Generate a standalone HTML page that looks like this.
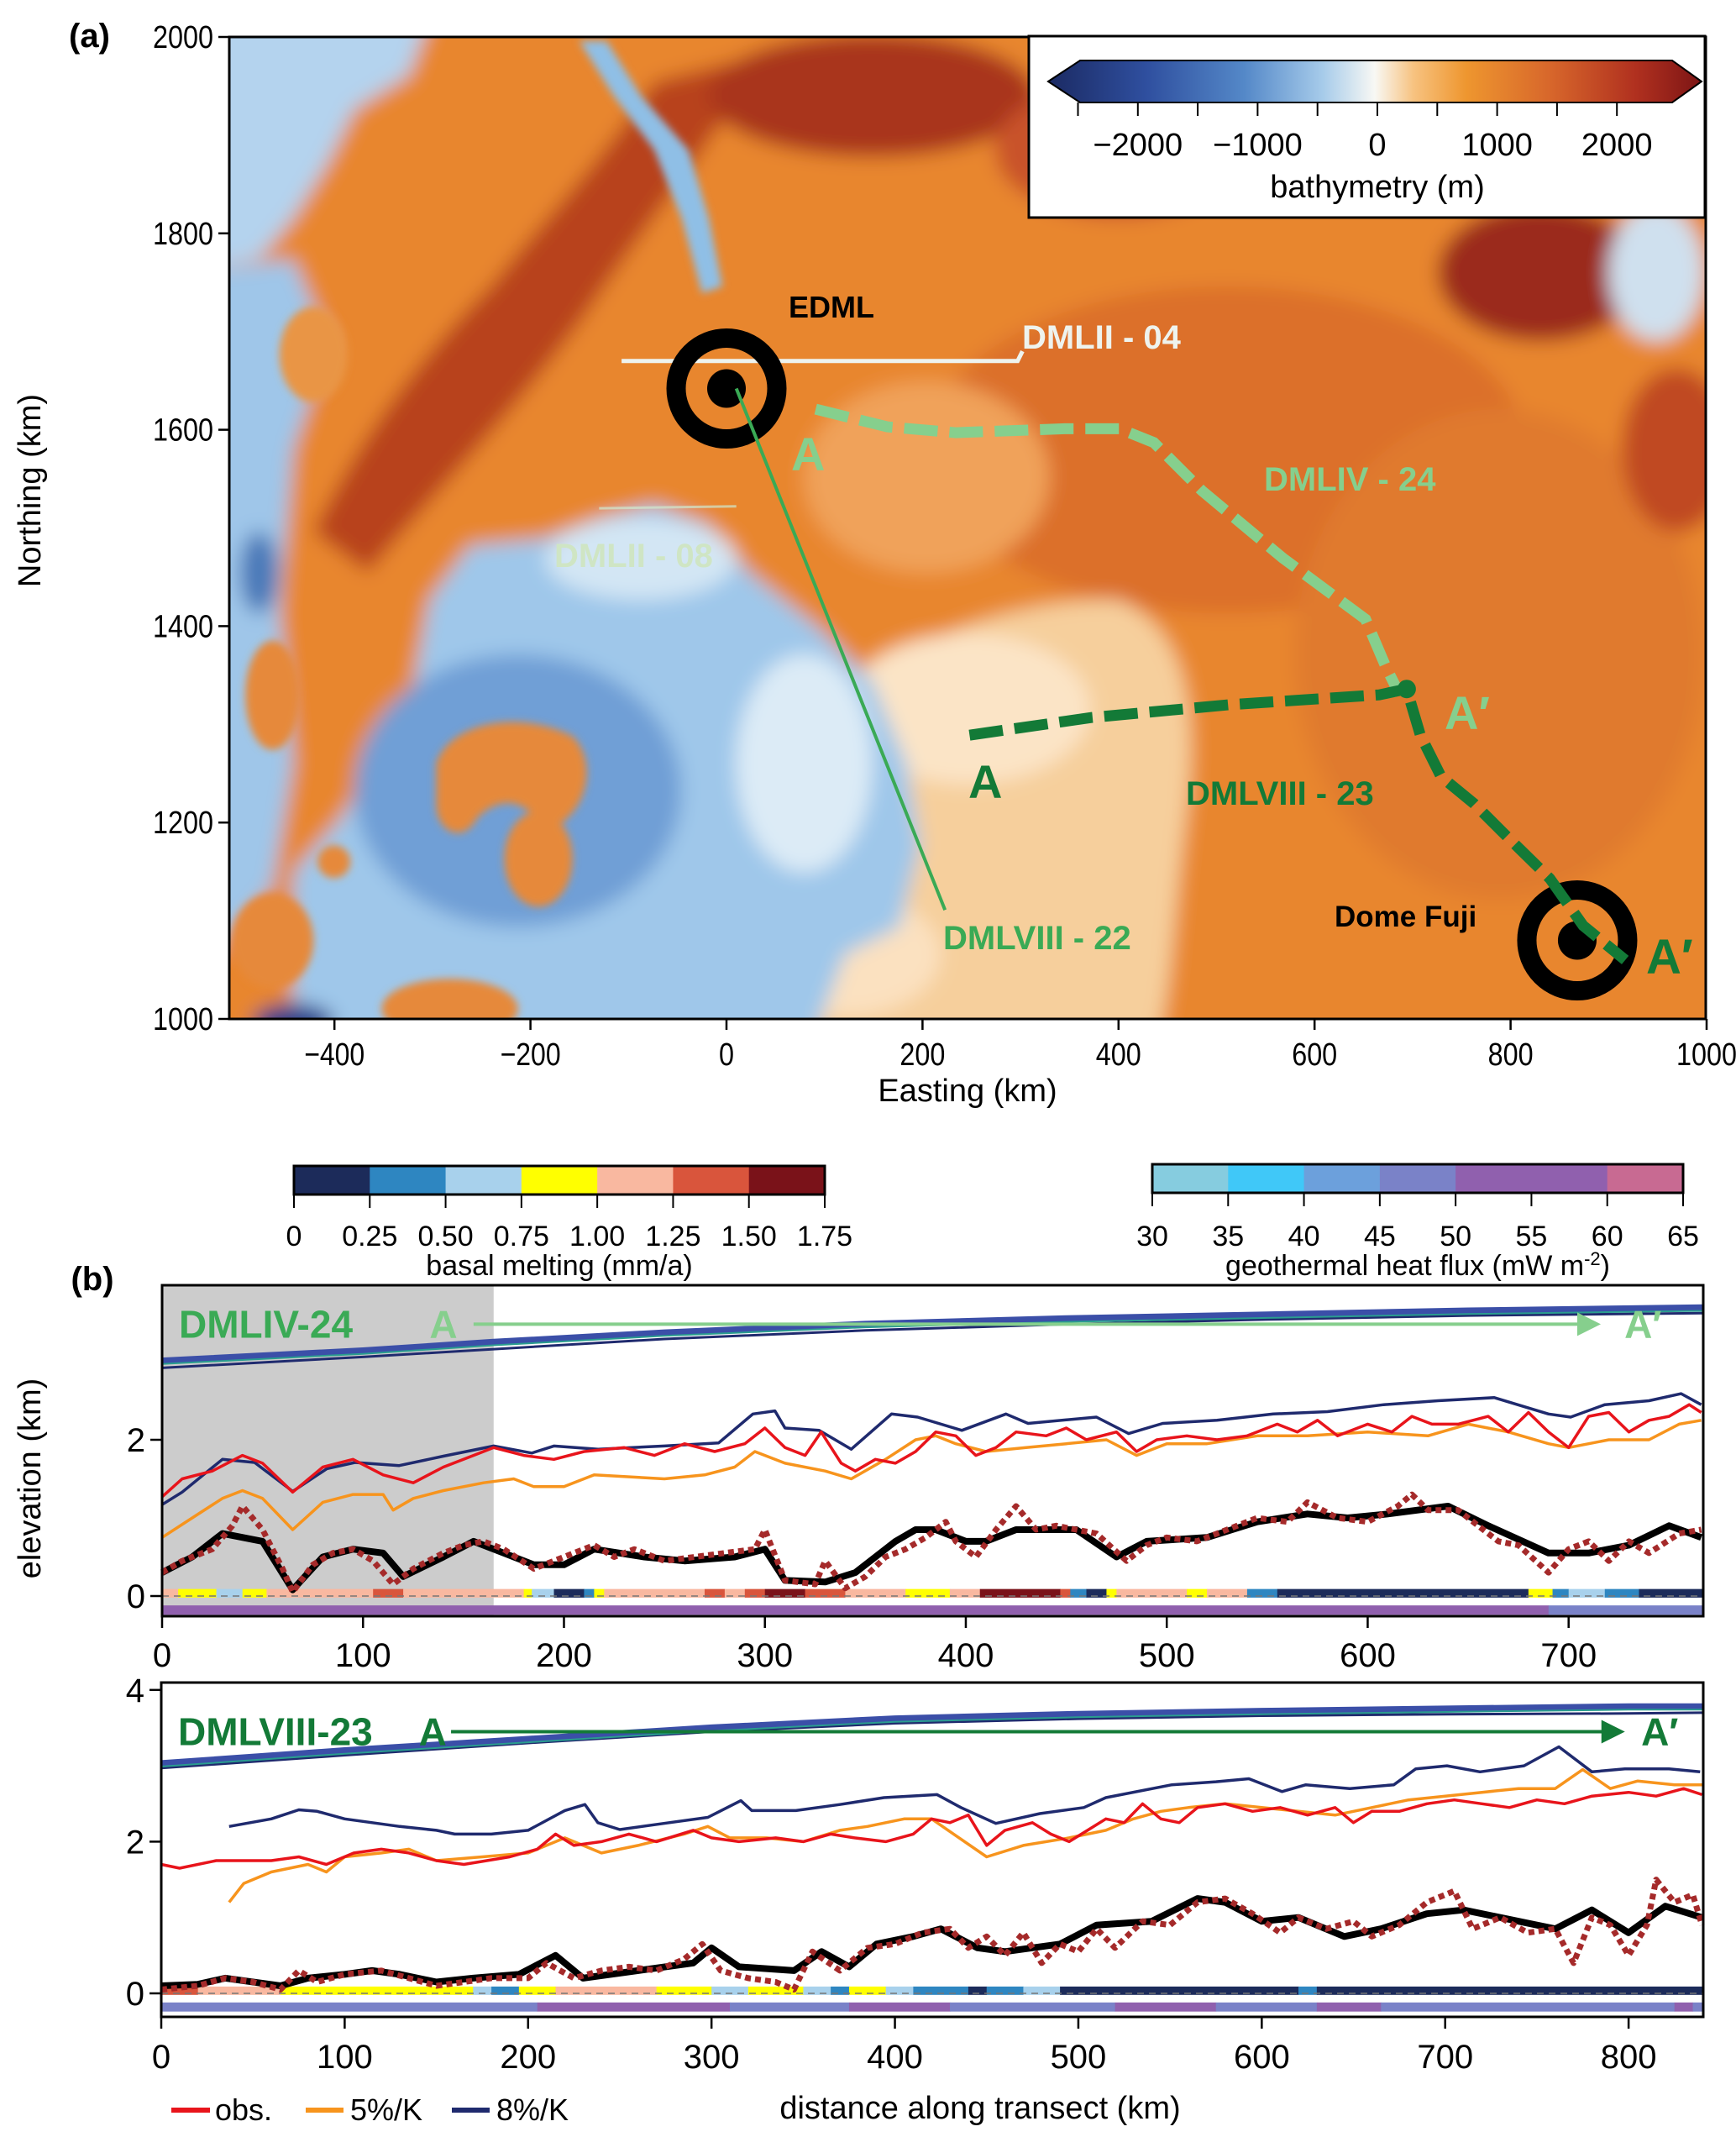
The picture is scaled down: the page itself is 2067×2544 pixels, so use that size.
<!DOCTYPE html>
<html><head><meta charset="utf-8"><style>
html,body{margin:0;padding:0;background:#fff}
svg{display:block}
text{font-family:"Liberation Sans Narrow","Liberation Sans",sans-serif}
.b{font-family:"Liberation Sans",sans-serif;font-weight:bold}
</style></head><body>
<svg id="fig" xmlns="http://www.w3.org/2000/svg" width="2067" height="2544" viewBox="0 0 2067 2544">
<defs>
<clipPath id="mapclip"><rect x="273" y="44" width="1758" height="1169"/></clipPath>
<filter id="blr" x="-20%" y="-20%" width="140%" height="140%"><feGaussianBlur stdDeviation="7"/></filter>
<filter id="blr2" x="-20%" y="-20%" width="140%" height="140%"><feGaussianBlur stdDeviation="3"/></filter>
<linearGradient id="bathy" x1="0" x2="1" y1="0" y2="0">
<stop offset="0" stop-color="#1b2a63"/><stop offset="0.15" stop-color="#2f4f9f"/><stop offset="0.3" stop-color="#5488c8"/>
<stop offset="0.42" stop-color="#a6cbea"/><stop offset="0.5" stop-color="#f8f8f4"/><stop offset="0.56" stop-color="#f7c27f"/>
<stop offset="0.64" stop-color="#ee962f"/><stop offset="0.77" stop-color="#d7662b"/><stop offset="0.9" stop-color="#b0301f"/><stop offset="1" stop-color="#7d1515"/>
</linearGradient>
</defs>

<!-- MAP -->
<g clip-path="url(#mapclip)">
<rect x="273" y="44" width="1758" height="1169" fill="#e8862f"/>
<g transform="scale(1.623)" filter="url(#blr)">
 <rect x="140" y="0" width="1140" height="780" fill="#e8862f"/>
 <ellipse cx="900" cy="330" rx="220" ry="120" fill="#dc6f29"/>
 <ellipse cx="1100" cy="480" rx="150" ry="180" fill="#e07a2d"/>
 <path d="M230,390 C260,330 300,270 360,210 C400,160 440,120 480,60 L560,40 C520,110 470,170 430,230 C380,300 320,360 270,420 Z" fill="#b8421f"/>
 <ellipse cx="640" cy="70" rx="120" ry="45" fill="#a9351c"/>
 <ellipse cx="820" cy="110" rx="90" ry="50" fill="#c9522a"/>
 <ellipse cx="1130" cy="200" rx="75" ry="50" fill="#9b2c1b"/>
 <ellipse cx="1230" cy="330" rx="40" ry="60" fill="#c04a20"/>
 <ellipse cx="680" cy="350" rx="90" ry="70" fill="#f0a25a"/>
 <path d="M545,760 C540,660 560,580 610,520 C660,470 740,440 820,440 C870,460 880,520 870,600 C860,680 860,720 850,760 Z" fill="#f6cf9c"/>
 <ellipse cx="710" cy="520" rx="90" ry="55" fill="#fbe4c6"/>
 <ellipse cx="620" cy="700" rx="70" ry="45" fill="#fbe1c0"/>
 <path d="M140,0 L320,0 L300,55 L260,80 L240,120 L215,160 L190,190 L140,200 Z" fill="#b4d3ee"/>
 <path d="M140,200 L215,190 L240,250 L225,300 L215,330 L205,450 L215,560 L200,650 L140,720 Z" fill="#9fc6e9"/>
 <path d="M215,780 L215,640 L250,600 L300,520 L315,440 L345,400 L400,395 L440,380 L480,370 L520,385 L550,420 L600,460 L640,500 L665,560 L675,620 L660,680 L620,700 L590,780 Z" fill="#9fc7ea"/>
 <ellipse cx="380" cy="580" rx="120" ry="100" fill="#6f9fd6"/>
 <ellipse cx="470" cy="410" rx="70" ry="30" fill="#d3e6f4"/>
 <ellipse cx="590" cy="560" rx="50" ry="80" fill="#dcebf6"/>
 <ellipse cx="1215" cy="200" rx="35" ry="50" fill="#cfe0ee"/>
 <ellipse cx="190" cy="420" rx="14" ry="30" fill="#4a78b8"/>
 <ellipse cx="215" cy="750" rx="30" ry="14" fill="#27408b"/>
</g>
<g transform="scale(1.623)" filter="url(#blr2)">
 <path d="M425,30 L445,30 L470,70 L505,110 L520,160 L530,210 L515,215 L500,160 L480,110 L450,70 Z" fill="#8fbfe6"/>
 <path d="M320,560 C330,530 380,520 420,540 C440,560 430,600 400,610 C390,590 370,580 350,600 C340,620 320,610 320,590 Z" fill="#e6893a"/>
 <ellipse cx="395" cy="630" rx="25" ry="35" fill="#e6893a"/>
 <ellipse cx="245" cy="632" rx="12" ry="12" fill="#e6893a"/>
 <ellipse cx="200" cy="690" rx="30" ry="35" fill="#e6893a"/>
 <ellipse cx="330" cy="740" rx="50" ry="22" fill="#e6893a"/>
 <ellipse cx="200" cy="510" rx="20" ry="40" fill="#e6893a"/>
 <ellipse cx="230" cy="260" rx="25" ry="35" fill="#e99545"/>
</g>
</g>
<rect x="273" y="44" width="1758" height="1169" fill="none" stroke="#000" stroke-width="3"/>
<g id="mapover"></g>

<!-- bathymetry colorbar box -->
<g>
<rect x="1225" y="43" width="805" height="216" fill="#fff" stroke="#000" stroke-width="3"/>
<polygon points="1248,97 1286,72 1991,72 2026,97 1991,122 1286,122" fill="url(#bathy)" stroke="#000" stroke-width="2"/>
<g id="bathyticks"></g>
<text x="1640" y="235" font-size="38" text-anchor="middle">bathymetry (m)</text>
</g>

<text x="82" y="56" class="b" font-size="40">(a)</text>
<text x="1152" y="1311" font-size="38" text-anchor="middle">Easting (km)</text>
<text x="48" y="584" font-size="38" text-anchor="middle" transform="rotate(-90 48 584)">Northing (km)</text>

<!-- panel b colorbars -->
<g id="cbars"></g>
<text x="666" y="1518" font-size="34" text-anchor="middle">basal melting (mm/a)</text>
<text x="1688" y="1518" font-size="34" text-anchor="middle">geothermal heat flux (mW m<tspan font-size="22" dy="-12">-2</tspan><tspan dy="12">)</tspan></text>
<text x="110" y="1536" class="b" font-size="40" text-anchor="middle">(b)</text>
<text x="48" y="1760" font-size="38" text-anchor="middle" transform="rotate(-90 48 1760)">elevation (km)</text>
<text x="1167" y="2522" font-size="38" text-anchor="middle">distance along transect (km)</text>

<g>
<line x1="204" y1="2512" x2="250" y2="2512" stroke="#e8141b" stroke-width="6"/>
<text x="256" y="2524" font-size="36">obs.</text>
<line x1="364" y1="2512" x2="409" y2="2512" stroke="#f7941d" stroke-width="6"/>
<text x="417" y="2524" font-size="36">5%/K</text>
<line x1="538" y1="2512" x2="583" y2="2512" stroke="#1f2a6e" stroke-width="6"/>
<text x="591" y="2524" font-size="36">8%/K</text>
</g>

<g id="plot1"></g>
<g id="plot2"></g>
</svg>
<script>
const NS="http://www.w3.org/2000/svg";
function el(tag,attrs,parent,txt){const e=document.createElementNS(NS,tag);for(const k in attrs)e.setAttribute(k,attrs[k]);if(txt!==undefined)e.textContent=txt;parent.appendChild(e);return e;}

// ---------- MAP DATA (km) ----------
const mapXTicks=[-400,-200,0,200,400,600,800,1000];
const mapYTicks=[1000,1200,1400,1600,1800,2000];
const edml=[0,1642];
const domeFuji=[868,1080];
const dml04=[[-107,1670],[297,1670],[302,1680]];
const dml08=[[-130,1520],[10,1522]];
const dml22=[[10,1642],[223,1111]];
const dml24=[[91,1621],[164,1603],[234,1597],[345,1601],[401,1601],[436,1587],[485,1538],[568,1469],[652,1407],[673,1358],[687,1330]];
const dml23=[[248,1289],[373,1307],[513,1320],[666,1330],[694,1336],[708,1289],[729,1247],[763,1219],[791,1191],[840,1143],[874,1095],[917,1060]];
const bathyTicks=[-2500,-2000,-1500,-1000,-500,0,500,1000,1500,2000];
const bathyLabels=[-2000,-1000,0,1000,2000];

const MX=e=>865+e*1.167, MY=n=>1213-(n-1000)*1.169;
const BX=v=>1640+v*0.1426;
const mo=document.getElementById('mapover');
function mpath(pts){return pts.map((p,i)=>(i?'L':'M')+MX(p[0]).toFixed(1)+','+MY(p[1]).toFixed(1)).join(' ');}

mapXTicks.forEach(v=>{
 const t=el('line',{x1:MX(v),x2:MX(v),y1:1213,y2:1226,stroke:'#000','stroke-width':2.5},mo);
 
 
 const s=(v<0?'\u2212':'')+Math.abs(v);
 const l=el('text',{x:MX(v),y:1268,'font-size':38,'text-anchor':'middle',textLength:s.length*18,lengthAdjust:'spacingAndGlyphs'},mo,s);
 
 
});
mapYTicks.forEach(v=>{
 const t=el('line',{x1:260,x2:273,y1:MY(v),y2:MY(v),stroke:'#000','stroke-width':2.5},mo);
 
 
 const l=el('text',{x:254,y:MY(v)+13,'font-size':38,'text-anchor':'end',textLength:72,lengthAdjust:'spacingAndGlyphs'},mo,String(v));
 
 
});
let p;
p=el('path',{d:mpath(dml04),fill:'none',stroke:'#eef3ee','stroke-width':5},mo);


p=el('path',{d:mpath(dml08),fill:'none',stroke:'#cfe8cf','stroke-width':3,opacity:0.7},mo);


function target(c,name){
 const g=el('g',{},mo);
 
 
 el('circle',{cx:MX(c[0]),cy:MY(c[1]),r:60,fill:'none',stroke:'#000','stroke-width':23},g);
 el('circle',{cx:MX(c[0]),cy:MY(c[1]),r:23,fill:'#000'},g);
}
target(edml,'edml-marker');
target(domeFuji,'dome-fuji-marker');
p=el('path',{d:mpath(dml22),fill:'none',stroke:'#3aaa55','stroke-width':4},mo);


p=el('path',{d:mpath(dml24),fill:'none',stroke:'#86cf8d','stroke-width':13,'stroke-dasharray':'40,14'},mo);


p=el('path',{d:mpath(dml23),fill:'none',stroke:'#137a37','stroke-width':13,'stroke-dasharray':'40,14'},mo);


p=el('circle',{cx:MX(694),cy:MY(1336),r:11,fill:'#137a37'},mo);


const mlabels=[
 ['EDML',939,378,36,'#000','edml-label'],
 ['DMLII - 04',1217,415,40,'#eef3ee','dmlii-04-label'],
 ['A',942,560,56,'#86cf8d','a-label-24'],
 ['DMLIV - 24',1505,584,40,'#86cf8d','dmliv-24-label'],
 ['DMLII - 08',660,675,40,'#cfe5c4','dmlii-08-label'],
 ['A\u2032',1720,868,56,'#86cf8d','a-prime-label-24'],
 ['A',1153,950,56,'#137a37','a-label-23'],
 ['DMLVIII - 23',1412,958,40,'#137a37','dmlviii-23-label'],
 ['DMLVIII - 22',1123,1130,40,'#3aaa55','dmlviii-22-label'],
 ['Dome Fuji',1589,1103,35,'#000','dome-fuji-label'],
 ['A\u2032',1960,1159,58,'#137a37','a-prime-label-23']
];
mlabels.forEach(m=>{
 const t=el('text',{x:m[1],y:m[2],'font-size':m[3],fill:m[4],class:'b'},mo,m[0]);
 
 
});
const bt=document.getElementById('bathyticks');
bathyTicks.forEach(v=>{
 const t=el('line',{x1:BX(v),x2:BX(v),y1:122,y2:138,stroke:'#000','stroke-width':2},bt);
 
 
});
bathyLabels.forEach(v=>{
 const t=el('text',{x:BX(v),y:185,'font-size':38,'text-anchor':'middle'},bt,(v<0?'\u2212':'')+Math.abs(v));
 
 
});

// ---------- colorbars panel b ----------
const meltTicks=['0','0.25','0.50','0.75','1.00','1.25','1.50','1.75'];
const meltColors=['#1c2b5a','#2e86c1','#a8d1ec','#ffff00','#f9b8a0','#d9553c','#7a1219'];
const geoTicks=['30','35','40','45','50','55','60','65'];
const geoColors=['#86ccdf','#40c8f8','#6ca0dc','#7a82c8','#9060ae','#9060ae','#c86a92'];
const cb=document.getElementById('cbars');
function cbar(x0,x1,y0,y1,cols,ticks,name){
 const g=el('g',{},cb);
 
 
 const w=(x1-x0)/cols.length;
 cols.forEach((c,i)=>el('rect',{x:x0+i*w,y:y0,width:w+0.5,height:y1-y0,fill:c},g));
 el('rect',{x:x0,y:y0,width:x1-x0,height:y1-y0,fill:'none',stroke:'#000','stroke-width':3},g);
 ticks.forEach((t,i)=>{
  const x=x0+i*(x1-x0)/(ticks.length-1);
  el('line',{x1:x,x2:x,y1:y1,y2:y1+16,stroke:'#000','stroke-width':2},g);
  el('text',{x:x,y:1483,'font-size':34,'text-anchor':'middle'},g,t);
 });
}
cbar(350,982,1388,1422,meltColors,meltTicks,'basal-melting-colorbar');
cbar(1372,2004,1386,1420,geoColors,geoTicks,'geothermal-colorbar');

// ---------- PROFILE DATA ----------
const p1Surf=[[0,3.01],[100,3.14],[165,3.25],[250,3.37],[350,3.48],[450,3.55],[550,3.6],[650,3.65],[767,3.69]];
const p1SurfLow=[[0,2.92],[100,3.06],[165,3.16],[250,3.29],[350,3.4],[450,3.48],[550,3.54],[650,3.59],[767,3.62]];
const p1Navy=[[0,1.17],[10,1.33],[30,1.75],[46,1.71],[65,1.34],[82,1.63],[96,1.71],[118,1.67],[140,1.79],[165,1.92],[184,1.83],[195,1.92],[217,1.88],[250,1.92],[277,1.96],[294,2.33],[305,2.37],[310,2.15],[327,2.12],[343,1.88],[363,2.33],[376,2.29],[398,2.12],[420,2.33],[431,2.21],[465,2.29],[481,2.08],[498,2.21],[525,2.25],[553,2.33],[580,2.36],[608,2.45],[635,2.5],[663,2.54],[690,2.33],[701,2.29],[718,2.45],[740,2.5],[756,2.59],[766,2.45]];
const p1Obs=[[0,1.27],[10,1.5],[25,1.6],[40,1.8],[50,1.7],[65,1.33],[80,1.65],[95,1.75],[110,1.55],[125,1.45],[140,1.65],[155,1.8],[165,1.9],[180,1.8],[195,1.75],[210,1.85],[230,1.9],[245,1.8],[260,1.95],[275,1.85],[290,1.95],[300,2.15],[310,1.9],[320,1.8],[328,2.1],[338,1.7],[345,1.6],[355,1.75],[365,1.7],[375,1.85],[385,2.1],[395,2.05],[405,1.8],[415,1.9],[425,2.1],[440,2.05],[450,2.15],[460,2.0],[475,2.1],[485,1.85],[495,2.0],[510,2.05],[525,2.0],[540,2.05],[555,2.2],[565,2.1],[575,2.25],[585,2.05],[600,2.2],[612,2.1],[622,2.3],[632,2.2],[645,2.2],[660,2.3],[670,2.1],[680,2.35],[690,2.1],[700,1.9],[710,2.3],[720,2.35],[730,2.1],[740,2.25],[750,2.3],[760,2.45],[766,2.35]];
const p1Five=[[0,0.75],[15,1.0],[30,1.25],[40,1.35],[50,1.25],[65,0.85],[80,1.2],[95,1.3],[110,1.3],[115,1.1],[125,1.25],[140,1.35],[160,1.45],[175,1.5],[185,1.4],[200,1.4],[215,1.55],[250,1.5],[270,1.55],[285,1.65],[295,1.85],[310,1.7],[330,1.6],[343,1.5],[360,1.75],[375,2.0],[385,2.05],[395,1.95],[410,1.85],[430,1.9],[450,1.95],[470,2.0],[485,1.8],[500,1.95],[520,1.95],[545,2.05],[570,2.05],[600,2.1],[630,2.05],[650,2.2],[670,2.1],[690,1.95],[700,1.9],[720,2.0],[740,2.0],[755,2.2],[766,2.25]];
const p1Bed=[[0,0.3],[15,0.5],[30,0.8],[50,0.7],[65,0.08],[80,0.5],[95,0.6],[110,0.55],[120,0.25],[140,0.5],[155,0.7],[170,0.55],[185,0.4],[200,0.4],[215,0.6],[240,0.5],[260,0.45],[285,0.5],[300,0.6],[310,0.2],[330,0.18],[345,0.3],[365,0.7],[375,0.85],[385,0.85],[400,0.7],[410,0.7],[425,0.85],[440,0.85],[455,0.85],[475,0.5],[490,0.7],[520,0.75],[545,0.95],[570,1.05],[590,1.0],[610,1.05],[640,1.15],[660,0.9],[690,0.55],[710,0.55],[730,0.65],[750,0.9],[766,0.75]];
const p1BedObs=[[0,0.3],[10,0.45],[25,0.6],[35,0.9],[40,1.15],[50,0.85],[60,0.35],[65,0.05],[75,0.4],[85,0.55],[95,0.6],[105,0.45],[115,0.15],[125,0.35],[140,0.55],[150,0.65],[160,0.7],[170,0.6],[185,0.35],[195,0.45],[205,0.55],[215,0.65],[225,0.5],[235,0.6],[250,0.45],[265,0.5],[280,0.55],[295,0.6],[300,0.85],[310,0.2],[325,0.15],[330,0.45],[340,0.1],[350,0.25],[360,0.5],[370,0.6],[380,0.75],[390,0.95],[395,0.7],[405,0.5],[415,0.85],[425,1.15],[435,0.85],[445,0.9],[455,0.85],[465,0.8],[480,0.45],[490,0.65],[500,0.75],[515,0.7],[530,0.85],[545,1.0],[560,0.95],[570,1.2],[585,1.0],[600,0.95],[615,1.15],[622,1.3],[630,1.1],[645,1.1],[655,0.9],[665,0.7],[675,0.65],[690,0.3],[700,0.6],[710,0.7],[720,0.45],[730,0.7],[740,0.55],[755,0.8],[766,0.85]];
const p1Melt=[[0,8,4],[8,27,3],[27,40,2],[40,52,3],[52,105,4],[105,120,5],[120,180,4],[180,184,3],[184,195,2],[195,210,0],[210,215,1],[215,220,3],[220,270,4],[270,280,5],[280,290,4],[290,300,5],[300,320,6],[320,340,5],[340,370,4],[370,392,3],[392,407,4],[407,447,6],[447,452,5],[452,460,1],[460,470,0],[470,475,3],[475,510,4],[510,520,3],[520,540,4],[540,555,1],[555,680,0],[680,692,3],[692,700,1],[700,718,2],[718,735,1],[735,767,0]];
const p1Geo=[[0,690,4],[690,767,3]];

const p2Surf=[[0,3.03],[100,3.2],[200,3.35],[300,3.5],[400,3.62],[500,3.68],[600,3.72],[700,3.75],[800,3.78],[840,3.78]];
const p2SurfLow=[[0,2.97],[100,3.14],[200,3.3],[300,3.45],[400,3.56],[500,3.62],[600,3.66],[700,3.68],[800,3.69],[840,3.7]];
const p2Navy=[[37,2.2],[60,2.3],[75,2.42],[85,2.4],[100,2.3],[130,2.2],[150,2.15],[160,2.1],[180,2.1],[200,2.15],[220,2.41],[231,2.49],[238,2.25],[250,2.16],[274,2.24],[298,2.32],[316,2.54],[322,2.41],[346,2.41],[370,2.49],[394,2.58],[423,2.62],[436,2.45],[455,2.24],[479,2.37],[503,2.45],[515,2.58],[551,2.75],[575,2.79],[593,2.83],[611,2.66],[624,2.75],[648,2.7],[672,2.75],[684,2.96],[701,3.0],[719,2.92],[743,3.0],[762,3.25],[780,2.92],[798,2.96],[822,2.96],[839,2.92]];
const p2Obs=[[0,1.7],[10,1.65],[30,1.75],[60,1.75],[75,1.8],[90,1.7],[105,1.85],[120,1.9],[135,1.85],[150,1.75],[165,1.7],[190,1.8],[205,1.9],[215,2.1],[225,1.95],[240,2.0],[255,2.1],[270,2.0],[290,2.15],[300,2.05],[315,2.0],[335,2.05],[350,2.0],[365,2.1],[378,2.05],[395,2.0],[410,2.1],[420,2.3],[430,2.25],[440,2.35],[450,1.95],[460,2.15],[475,2.25],[485,2.1],[495,2.0],[505,2.15],[515,2.3],[525,2.25],[535,2.5],[545,2.3],[555,2.25],[565,2.45],[580,2.5],[595,2.4],[610,2.45],[625,2.35],[640,2.45],[650,2.25],[660,2.4],[675,2.4],[690,2.5],[705,2.55],[720,2.5],[735,2.45],[750,2.55],[765,2.5],[780,2.6],[800,2.65],[815,2.6],[830,2.7],[840,2.62]];
const p2Five=[[37,1.2],[45,1.45],[60,1.6],[70,1.65],[80,1.7],[90,1.6],[100,1.8],[120,1.85],[135,1.9],[150,1.75],[175,1.8],[200,1.85],[220,2.05],[240,1.85],[260,1.95],[285,2.1],[298,2.2],[310,2.05],[330,2.05],[350,2.0],[370,2.15],[385,2.2],[405,2.3],[420,2.3],[435,2.05],[450,1.8],[470,1.95],[495,2.05],[515,2.15],[530,2.3],[545,2.4],[560,2.45],[580,2.5],[600,2.45],[620,2.4],[640,2.35],[660,2.45],[680,2.55],[700,2.6],[720,2.65],[740,2.7],[760,2.7],[775,2.95],[790,2.7],[805,2.8],[825,2.75],[840,2.75]];
const p2Bed=[[0,0.1],[20,0.12],[35,0.2],[65,0.1],[80,0.2],[100,0.25],[115,0.3],[130,0.25],[150,0.15],[170,0.2],[195,0.25],[215,0.5],[230,0.2],[260,0.3],[290,0.4],[300,0.6],[315,0.35],[345,0.3],[360,0.55],[375,0.35],[390,0.65],[410,0.75],[425,0.85],[445,0.6],[460,0.55],[490,0.65],[510,0.9],[540,0.95],[565,1.25],[580,1.2],[600,0.95],[620,1.0],[645,0.75],[665,0.85],[690,1.05],[710,1.1],[740,0.95],[760,0.85],[780,1.1],[800,0.8],[820,1.15],[840,1.0]];
const p2BedObs=[[0,0.05],[20,0.1],[35,0.2],[50,0.15],[65,0.05],[75,0.3],[85,0.15],[100,0.25],[120,0.3],[135,0.2],[150,0.1],[165,0.15],[180,0.2],[200,0.2],[210,0.4],[225,0.2],[240,0.3],[255,0.35],[270,0.3],[285,0.45],[295,0.65],[305,0.3],[320,0.2],[335,0.15],[345,0.05],[355,0.55],[370,0.3],[385,0.6],[400,0.65],[415,0.8],[430,0.85],[440,0.6],[450,0.75],[460,0.5],[470,0.8],[480,0.4],[490,0.65],[500,0.55],[510,0.85],[520,0.6],[535,0.95],[550,0.9],[565,1.2],[580,1.25],[595,1.05],[610,0.8],[620,1.0],[635,0.85],[650,0.95],[660,0.75],[675,0.9],[690,1.2],[705,1.35],[715,0.85],[730,1.0],[745,0.8],[760,0.85],[770,0.4],[780,1.0],[790,0.9],[800,0.5],[810,0.9],[815,1.5],[825,1.2],[835,1.3],[840,0.9]];
const p2Melt=[[0,20,5],[20,65,4],[65,170,3],[170,180,2],[180,195,1],[195,215,3],[215,270,4],[270,300,3],[300,320,2],[320,350,3],[350,365,2],[365,375,1],[375,395,3],[395,410,2],[410,440,1],[440,450,0],[450,470,1],[470,490,2],[490,620,0],[620,630,1],[630,841,0]];
const p2Geo=[[0,205,3],[205,310,4],[310,375,3],[375,430,4],[430,520,3],[520,575,4],[575,630,3],[630,665,4],[665,825,3],[825,835,4],[835,841,3]];
const p1XTicks=[0,100,200,300,400,500,600,700];
const p2XTicks=[0,100,200,300,400,500,600,700,800];
const p1YTicks=[0,2];
const p2YTicks=[0,2,4];

function drawPlot(gid,cfg){
 const g=document.getElementById(gid);
 const X=v=>cfg.l+v*(cfg.r-cfg.l)/cfg.xmax, Y=v=>cfg.y0-v*cfg.ky;
 const path=pts=>pts.map((p,i)=>(i?'L':'M')+X(p[0]).toFixed(1)+','+Y(p[1]).toFixed(1)).join(' ');
 el('rect',{x:cfg.l,y:cfg.t,width:cfg.r-cfg.l,height:cfg.b-cfg.t,fill:'#fff'},g);
 if(cfg.gray){const r=el('rect',{x:cfg.l,y:cfg.t,width:X(cfg.gray)-cfg.l,height:cfg.b-cfg.t,fill:'#cccccc'},g);
  
  }
 cfg.melt.forEach(s=>{const r=el('rect',{x:X(s[0]),y:Y(0.09),width:X(s[1])-X(s[0])+0.5,height:0.11*cfg.ky,fill:meltColors[s[2]]},g);
  
  });
 el('line',{x1:cfg.l,x2:cfg.r,y1:Y(0),y2:Y(0),stroke:'#777','stroke-width':1.5,'stroke-dasharray':'8,6'},g);
 cfg.geo.forEach(s=>{const r=el('rect',{x:X(s[0]),y:Y(-0.12),width:X(s[1])-X(s[0])+0.5,height:0.12*cfg.ky,fill:geoColors[s[2]]},g);
  
  });
 const series=[
  [cfg.surfLow,'#1f2a6e',3,null,'surface-8pct'],
  [cfg.surf,'#3b4fa8',8,null,'surface-obs'],
  [cfg.surf.map(p=>[p[0],p[1]-0.04]),'#2a9d8f',2,null,'surface-5pct'],
  [cfg.navy,'#1f2a6e',3.5,null,'line-8pct-per-k'],
  [cfg.five,'#f7941d',3.5,null,'line-5pct-per-k'],
  [cfg.obs,'#e8141b',3.5,null,'line-obs'],
  [cfg.bed,'#000',8,null,'bed-smoothed'],
  [cfg.bedObs,'#a52a2a',7,'7,5','bed-observed']
 ];
 series.forEach(s=>{
  const a={d:path(s[0]),fill:'none',stroke:s[1],'stroke-width':s[2],'stroke-linejoin':'round'};
  if(s[3])a['stroke-dasharray']=s[3];
  const p=el('path',a,g);
  
  
 });
 const ay=Y(cfg.arrowY);
 const ar=el('line',{x1:X(cfg.arrow[0]),x2:X(cfg.arrow[1])-20,y1:ay,y2:ay,stroke:cfg.acol,'stroke-width':4},g);
 
 
 el('polygon',{points:`${X(cfg.arrow[1])},${ay} ${X(cfg.arrow[1])-28},${ay-14} ${X(cfg.arrow[1])-28},${ay+14}`,fill:cfg.acol},g);
 let t=el('text',{x:cfg.l+20,y:ay+16,'font-size':46,fill:cfg.lcol,class:'b'},g,cfg.label);
 
 
 t=el('text',{x:X(cfg.aPos),y:ay+16,'font-size':46,fill:cfg.acol,class:'b','text-anchor':'middle'},g,'A');
 
 
 t=el('text',{x:X(cfg.apPos),y:ay+16,'font-size':46,fill:cfg.acol,class:'b','text-anchor':'middle'},g,'A\u2032');
 
 
 el('rect',{x:cfg.l,y:cfg.t,width:cfg.r-cfg.l,height:cfg.b-cfg.t,fill:'none',stroke:'#000','stroke-width':3},g);
 cfg.xt.forEach(v=>{
  const k=el('line',{x1:X(v),x2:X(v),y1:cfg.b,y2:cfg.b+14,stroke:'#000','stroke-width':2.5},g);
  
  
  const l=el('text',{x:X(v),y:cfg.xly,'font-size':40,'text-anchor':'middle'},g,String(v));
  
  
 });
 cfg.yt.forEach(v=>{
  const k=el('line',{x1:cfg.l-14,x2:cfg.l,y1:Y(v),y2:Y(v),stroke:'#000','stroke-width':2.5},g);
  
  
  const l=el('text',{x:cfg.l-20,y:Y(v)+14,'font-size':40,'text-anchor':'end'},g,String(v));
  
  
 });
}
drawPlot('plot1',{l:193,r:2028,t:1530,b:1924,xmax:767,y0:1900,ky:93,gray:165,
 surf:p1Surf,surfLow:p1SurfLow,navy:p1Navy,obs:p1Obs,five:p1Five,bed:p1Bed,bedObs:p1BedObs,melt:p1Melt,geo:p1Geo,
 arrow:[155,716],arrowY:3.48,acol:'#86cf8d',lcol:'#3aaa55',label:'DMLIV-24',aPos:140,apPos:737,xt:p1XTicks,yt:p1YTicks,xly:1984});
drawPlot('plot2',{l:192,r:2028,t:2003,b:2401,xmax:840.7,y0:2373,ky:90.3,gray:0,
 surf:p2Surf,surfLow:p2SurfLow,navy:p2Navy,obs:p2Obs,five:p2Five,bed:p2Bed,bedObs:p2BedObs,melt:p2Melt,geo:p2Geo,
 arrow:[158,798],arrowY:3.45,acol:'#137a37',lcol:'#137a37',label:'DMLVIII-23',aPos:148,apPos:817,xt:p2XTicks,yt:p2YTicks,xly:2462});
document.getElementById('plot1');
document.getElementById('plot1');
document.getElementById('plot2');
document.getElementById('plot2');
</script>
</body></html>
